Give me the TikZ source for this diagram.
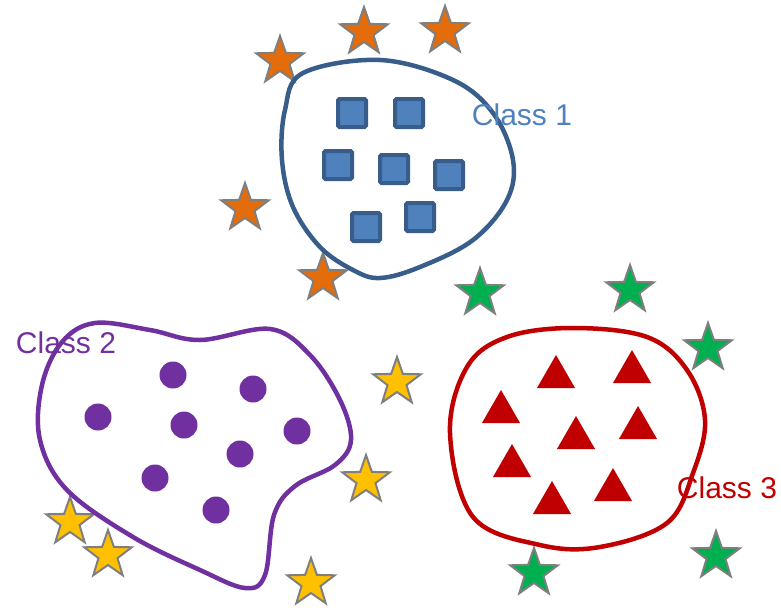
\documentclass[tikz,border=0pt]{standalone}
\usepackage{fontspec}
\setmainfont{Liberation Sans}
\usetikzlibrary{shapes.geometric}
\definecolor{ClassBlue}{HTML}{4F81BD}
\definecolor{ClassBlueDark}{HTML}{385D8A}
\definecolor{ClassPurple}{HTML}{7030A0}
\definecolor{ClassRed}{HTML}{C00000}
\definecolor{StarOrange}{HTML}{E46C0A}
\definecolor{StarGreen}{HTML}{00B050}
\definecolor{StarYellow}{HTML}{FFC000}
\definecolor{StarEdge}{HTML}{7F7F7F}

\begin{document}
\begin{tikzpicture}[x=1pt,y=-1pt,
    starpt/.style={star,star points=5,star point ratio=2.5,
      minimum size=50pt,inner sep=0pt,draw=StarEdge,line width=2pt,fill=#1},
    squarept/.style={rectangle,rounded corners=1.5pt,minimum size=28pt,
      inner sep=0pt,draw=ClassBlueDark,line width=4pt,fill=ClassBlue},
    dotpt/.style={circle,minimum size=27pt,inner sep=0pt,fill=ClassPurple},
    tript/.style={regular polygon,regular polygon sides=3,minimum size=44pt,
      inner sep=0pt,fill=ClassRed},
    classlab/.style={font=\fontsize{30}{36}\selectfont,inner sep=0pt}]
  \useasboundingbox (0,0) rectangle (781,610);

  % stars outside the classes
  \foreach \x/\y [count=\i] in {280/61,364/32,445/31,245/208,323/278}{
    \node[starpt=StarOrange] (so-\i) at (\x,\y) {};
  }
  \foreach \x/\y [count=\i] in {480/293,630/290,708/348,534/573,716/556}{
    \node[starpt=StarGreen] (sg-\i) at (\x,\y) {};
  }
  \foreach \x/\y [count=\i] in {397/382,366/480,70/522,108/555,311/583}{
    \node[starpt=StarYellow] (sy-\i) at (\x,\y) {};
  }

  % class 1
  \draw[ClassBlueDark,line width=4.5pt] plot[smooth cycle,tension=0.6] coordinates {
    (303,73) (380,60) (453,80) (493,113) (513,160) (507,200) (473,240)
    (420,267) (380,278) (353,270) (320,247) (293,207) (282,160) (285,110)};
  \foreach \x/\y [count=\i] in {352/113,409/113,338/165,394/169,449/175,366/227,420/217}{
    \node[squarept] (sq-\i) at (\x,\y) {};
  }
  \node[classlab,text=ClassBlue] (lab1) at (522,115) {Class 1};

  % class 2
  \draw[ClassPurple,line width=4.5pt] plot[smooth cycle,tension=0.6] coordinates {
    (62,342) (95,323) (150,330) (200,340) (270,329) (310,355) (340,400)
    (351,440) (335,465) (295,486) (274,515) (265,575) (245,588) (200,570)
    (133,537) (67,490) (40,440) (42,385)};
  \foreach \x/\y [count=\i] in {173/375,253/389,98/417,184/425,297/431,240/454,155/478,216/510}{
    \node[dotpt] (dot-\i) at (\x,\y) {};
  }
  \node[classlab,text=ClassPurple] (lab2) at (66,343) {Class 2};

  % class 3
  \draw[ClassRed,line width=4.5pt] plot[smooth cycle,tension=0.6] coordinates {
    (507,337) (573,328) (647,337) (687,370) (705,420) (693,473) (667,523)
    (600,547) (540,545) (473,517) (450,433) (467,367)};
  \foreach \x/\y [count=\i] in {556/377,632/372,501/412,576/438,638/428,512/466,552/503,613/490}{
    \node[tript] (tri-\i) at (\x,\y) {};
  }
  \node[classlab,text=ClassRed] (lab3) at (727,488) {Class 3};
\end{tikzpicture}
\end{document}
